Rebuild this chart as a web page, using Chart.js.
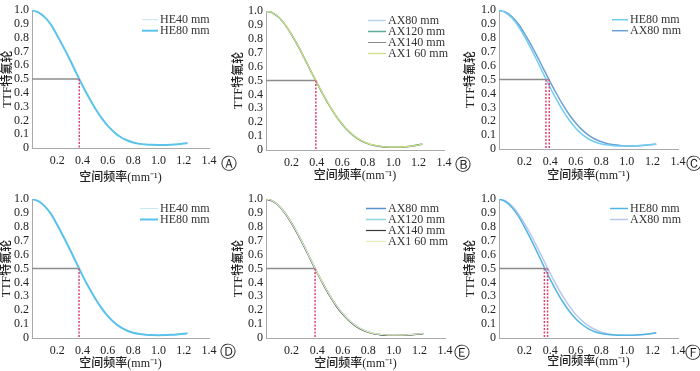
<!DOCTYPE html>
<html>
<head>
<meta charset="utf-8">
<script src="https://cdn.jsdelivr.net/npm/chart.js@4.4.0/dist/chart.umd.min.js"></script>
<style>
body{margin:0;background:#fff;width:700px;height:371px;position:relative;overflow:hidden}
.p{position:absolute}
.tag{position:absolute;font:16px "DejaVu Sans";color:#222;transform:translate(-50%,-50%)}
</style>
</head>
<body>
<div class="p" style="left:0;top:0;width:230px;height:185px"><canvas id="cA"></canvas></div>
<div class="p" style="left:230px;top:0;width:230px;height:185px"><canvas id="cB"></canvas></div>
<div class="p" style="left:460px;top:0;width:240px;height:185px"><canvas id="cC"></canvas></div>
<div class="p" style="left:0;top:185px;width:230px;height:186px"><canvas id="cD"></canvas></div>
<div class="p" style="left:230px;top:185px;width:230px;height:186px"><canvas id="cE"></canvas></div>
<div class="p" style="left:460px;top:185px;width:240px;height:186px"><canvas id="cF"></canvas></div>
<div class="tag" style="left:229px;top:164px">Ⓐ</div>
<div class="tag" style="left:463px;top:165px">Ⓑ</div>
<div class="tag" style="left:694px;top:164px">Ⓒ</div>
<div class="tag" style="left:228px;top:352px">Ⓓ</div>
<div class="tag" style="left:462px;top:353px">Ⓔ</div>
<div class="tag" style="left:693px;top:353px">Ⓕ</div>
<script>
// spatial frequency (mm^-1)
const freq = [0,0.05,0.1,0.15,0.2,0.25,0.3,0.35,0.4,0.45,0.5,0.55,0.6,0.65,0.7,0.75,0.8,0.85,0.9,0.95,1.0,1.05,1.1,1.15,1.2,1.23];
const half = 0.5;

// panel A
const aHE40 = [1.000,0.985,0.951,0.896,0.816,0.731,0.641,0.546,0.453,0.367,0.288,0.219,0.161,0.116,0.081,0.057,0.041,0.031,0.026,0.023,0.022,0.022,0.024,0.027,0.032,0.036];
const aHE80 = [1.000,0.985,0.950,0.895,0.815,0.730,0.640,0.545,0.452,0.366,0.287,0.218,0.160,0.115,0.080,0.056,0.040,0.030,0.025,0.023,0.022,0.022,0.024,0.027,0.032,0.036];
const aCross = [0.374];

// panel B
const bAX80  = [1.000,0.987,0.955,0.902,0.832,0.752,0.665,0.574,0.484,0.398,0.318,0.246,0.185,0.135,0.096,0.067,0.047,0.034,0.026,0.021,0.019,0.020,0.023,0.028,0.036,0.042];
const bAX120 = [1.000,0.987,0.955,0.902,0.832,0.752,0.664,0.573,0.483,0.397,0.317,0.245,0.184,0.134,0.095,0.066,0.046,0.033,0.025,0.021,0.019,0.020,0.023,0.029,0.037,0.043];
const bAX140 = [1.000,0.987,0.955,0.902,0.831,0.751,0.664,0.573,0.483,0.397,0.317,0.245,0.184,0.134,0.095,0.066,0.046,0.033,0.025,0.020,0.018,0.019,0.022,0.027,0.035,0.041];
const bAX160 = [1.000,0.987,0.956,0.903,0.833,0.753,0.666,0.575,0.485,0.399,0.319,0.247,0.186,0.136,0.097,0.068,0.048,0.035,0.027,0.022,0.020,0.021,0.024,0.029,0.036,0.042];
const bCross = [0.392];

// panel C
const cHE80 = [1.000,0.983,0.945,0.886,0.810,0.724,0.632,0.537,0.443,0.355,0.276,0.207,0.150,0.105,0.072,0.050,0.036,0.028,0.024,0.022,0.022,0.023,0.025,0.028,0.032,0.035];
const cAX80 = [1.000,0.987,0.955,0.902,0.832,0.752,0.665,0.574,0.484,0.398,0.318,0.247,0.187,0.138,0.100,0.072,0.052,0.038,0.030,0.025,0.022,0.022,0.024,0.027,0.032,0.035];
const cCross = [0.367,0.393];

// panel D
const dHE40 = [1.000,0.984,0.950,0.894,0.814,0.728,0.638,0.543,0.450,0.364,0.285,0.216,0.158,0.113,0.079,0.055,0.039,0.029,0.024,0.021,0.020,0.021,0.023,0.026,0.030,0.034];
const dHE80 = [1.000,0.984,0.949,0.893,0.813,0.727,0.637,0.542,0.449,0.363,0.284,0.215,0.157,0.112,0.078,0.054,0.038,0.029,0.024,0.021,0.020,0.021,0.023,0.026,0.030,0.034];
const dCross = [0.372];

// panel E
const eAX80  = [1.000,0.986,0.952,0.897,0.826,0.745,0.657,0.563,0.471,0.384,0.304,0.233,0.174,0.126,0.089,0.062,0.043,0.031,0.024,0.020,0.019,0.020,0.022,0.025,0.029,0.032];
const eAX120 = [1.000,0.986,0.952,0.897,0.826,0.744,0.656,0.562,0.470,0.383,0.303,0.232,0.173,0.125,0.088,0.061,0.042,0.030,0.023,0.020,0.019,0.020,0.022,0.025,0.030,0.033];
const eAX140 = [1.000,0.986,0.952,0.896,0.825,0.743,0.655,0.561,0.469,0.382,0.301,0.230,0.171,0.123,0.086,0.059,0.041,0.029,0.023,0.019,0.018,0.019,0.021,0.024,0.028,0.031];
const eAX160 = [1.000,0.987,0.953,0.898,0.827,0.746,0.658,0.564,0.472,0.385,0.305,0.234,0.175,0.127,0.090,0.063,0.044,0.032,0.025,0.021,0.020,0.021,0.023,0.026,0.030,0.033];
const eCross = [0.384];

// panel F
const fHE80 = [1.000,0.982,0.940,0.878,0.798,0.709,0.614,0.517,0.423,0.336,0.259,0.193,0.139,0.097,0.066,0.045,0.032,0.025,0.021,0.019,0.019,0.020,0.023,0.027,0.033,0.037];
const fAX80 = [1.000,0.986,0.951,0.895,0.823,0.741,0.652,0.558,0.466,0.379,0.299,0.229,0.170,0.123,0.087,0.061,0.043,0.031,0.024,0.020,0.019,0.020,0.023,0.027,0.033,0.037];
const fCross = [0.355,0.380];

const serif = '"Liberation Serif","Noto Sans CJK SC",serif';
const ink = '#222';

// legend drawn by hand in the upper right of the plot
const legendPlugin = {
  id: 'ttfLegend',
  afterDraw(chart, args, opts) {
    const ctx = chart.ctx;
    const a = chart.chartArea;
    let row = 0;
    chart.data.datasets.forEach(ds => {
      if (!ds.label) return;
      const y = a.top + 9.5 + row * 11;
      const x0 = a.right - opts.off;
      ctx.save();
      ctx.strokeStyle = ds.borderColor;
      ctx.lineWidth = ds.borderWidth;
      ctx.beginPath();
      ctx.moveTo(x0, y);
      ctx.lineTo(x0 + opts.len, y);
      ctx.stroke();
      ctx.fillStyle = '#333';
      ctx.font = '12px ' + serif;
      ctx.textBaseline = 'middle';
      ctx.fillText(ds.label, x0 + opts.len + 2, y + 0.5);
      ctx.restore();
      row++;
    });
  }
};

function panel(id, box, series, cross) {
  const datasets = series.map(s => ({
    label: s.label,
    data: freq.map((x, i) => ({x: x, y: s.values[i]})),
    borderColor: s.color,
    borderWidth: s.w,
    pointRadius: 0,
    cubicInterpolationMode: 'monotone',
    fill: false,
    order: s.order
  }));

  // 0.5 level and the frequencies where it is reached
  datasets.push({
    data: [{x: 0, y: half}, {x: Math.max(...cross), y: half}],
    borderColor: '#8c8c8c', borderWidth: 1.5, pointRadius: 0, order: 9
  });
  cross.forEach(c => {
    datasets.push({
      data: [{x: c, y: half}, {x: c, y: 0}],
      borderColor: '#e2416c', borderWidth: 1.5, borderDash: [2, 1.5], pointRadius: 0, order: 0
    });
  });

  new Chart(document.getElementById(id), {
    type: 'line',
    data: {datasets: datasets},
    options: {
      responsive: true,
      maintainAspectRatio: false,
      animation: false,
      layout: {padding: {top: box.pt, right: box.pr, left: 0, bottom: 0}},
      plugins: {
        legend: {display: false},
        tooltip: {enabled: false},
        ttfLegend: {off: box.lo, len: box.ll}
      },
      scales: {
        x: {
          type: 'linear', min: 0, max: 1.4,
          afterFit: s => { s.height = box.xh; },
          grid: {display: false, drawTicks: false},
          border: {color: '#aaa'},
          ticks: {
            stepSize: 0.2, padding: 6, color: ink, maxRotation: 0, autoSkip: false,
            font: {family: serif, size: 12},
            callback: v => v === 0 ? '' : v.toFixed(1)
          },
          title: {
            display: true, text: '空间频率(mm⁻¹)', color: ink,
            font: {family: serif, size: 12, weight: '500'},
            padding: {top: 0, bottom: box.tb}
          }
        },
        y: {
          min: 0, max: 1,
          afterFit: s => { s.width = box.yw; },
          grid: {display: false, drawTicks: false},
          border: {color: '#aaa'},
          ticks: {
            stepSize: 0.1, padding: 3, color: ink, autoSkip: false,
            font: {family: serif, size: 12},
            callback: v => v === 0 ? '0' : v.toFixed(1)
          },
          title: {
            display: true, text: 'TTF特氟轮', color: ink,
            font: {family: serif, size: 12, weight: '500'},
            padding: {top: box.tl, bottom: 0}
          }
        }
      }
    },
    plugins: [legendPlugin]
  });
}

panel('cA', {pt: 10, pr: 21, xh: 37, yw: 32, tb: 0, tl: 1, lo: 67, ll: 16}, [
  {label: 'HE40 mm', values: aHE40, color: '#bfe6f5', w: 1, order: 3},
  {label: 'HE80 mm', values: aHE80, color: '#5cc3ea', w: 2, order: 2}
], aCross);

panel('cB', {pt: 11, pr: 16, xh: 35, yw: 36, tb: 2, tl: 2, lo: 76, ll: 18}, [
  {label: 'AX80 mm', values: bAX80, color: '#b8d4ee', w: 1.5, order: 5},
  {label: 'AX120 mm', values: bAX120, color: '#5fa89a', w: 1.5, order: 4},
  {label: 'AX140 mm', values: bAX140, color: '#8a8a8a', w: 1, order: 3},
  {label: 'AX1 60 mm', values: bAX160, color: '#d0e07a', w: 1.2, order: 2}
], bCross);

panel('cC', {pt: 10, pr: 22, xh: 36, yw: 39, tb: 2, tl: 4, lo: 66, ll: 16}, [
  {label: 'HE80 mm', values: cHE80, color: '#6fcdf0', w: 1.5, order: 2},
  {label: 'AX80 mm', values: cAX80, color: '#6e9fd4', w: 1.5, order: 3}
], cCross);

panel('cD', {pt: 14, pr: 21, xh: 33, yw: 32, tb: 0, tl: 0, lo: 69, ll: 18}, [
  {label: 'HE40 mm', values: dHE40, color: '#c5e8f5', w: 1, order: 3},
  {label: 'HE80 mm', values: dHE80, color: '#5ac2ea', w: 2, order: 2}
], dCross);

panel('cE', {pt: 14, pr: 15, xh: 33, yw: 36, tb: 0, tl: 2, lo: 79, ll: 20}, [
  {label: 'AX80 mm', values: eAX80, color: '#5a8fd0', w: 1.5, order: 5},
  {label: 'AX120 mm', values: eAX120, color: '#8fd6dc', w: 1.5, order: 4},
  {label: 'AX140 mm', values: eAX140, color: '#3a3a3a', w: 1.2, order: 3},
  {label: 'AX1 60 mm', values: eAX160, color: '#e6ebb8', w: 1.2, order: 2}
], eCross);

panel('cF', {pt: 14, pr: 22, xh: 33, yw: 39, tb: 2, tl: 4, lo: 68, ll: 18}, [
  {label: 'HE80 mm', values: fHE80, color: '#4fb5e5', w: 1.5, order: 2},
  {label: 'AX80 mm', values: fAX80, color: '#b8c8e8', w: 1.5, order: 3}
], fCross);
</script>
</body>
</html>
